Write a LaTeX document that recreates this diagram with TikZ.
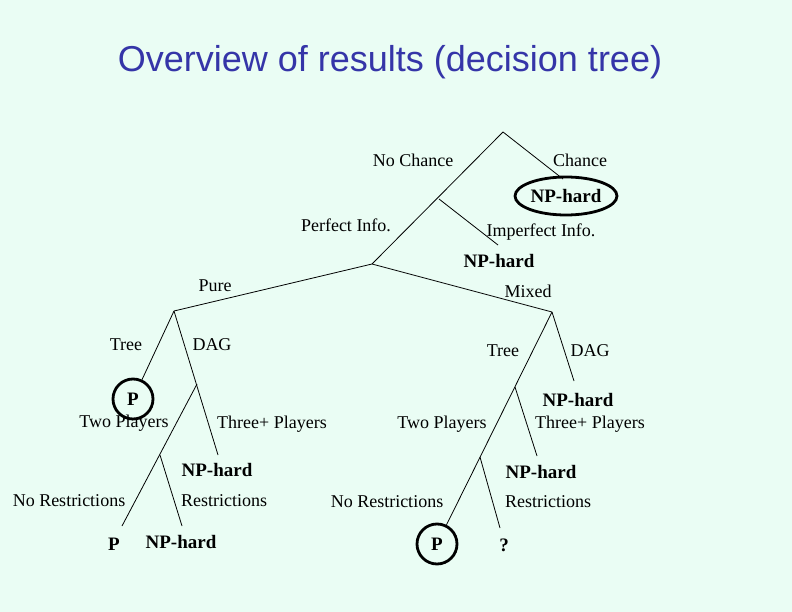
\documentclass[tikz,border=0pt]{standalone}
\usepackage{fontspec}
\setmainfont{Liberation Serif}
\newfontfamily\titlefont{Liberation Sans}
\usetikzlibrary{shapes.geometric}
\definecolor{slidebg}{HTML}{EAFDF4}
\definecolor{titleblue}{HTML}{3535A8}

\begin{document}
\begin{tikzpicture}[
  x=1pt, y=-1pt,
  lbl/.style={font=\fontsize{18}{20}\selectfont, inner sep=0pt},
  res/.style={font=\fontsize{19}{21}\selectfont\bfseries, inner sep=0pt},
  ring/.style={res, draw, circle, line width=2.8pt, minimum size=40pt},
  oval/.style={res, draw, ellipse, line width=2.8pt,
               minimum width=102pt, minimum height=38pt},
  branch/.style={line width=0.8pt},
]

% ================= slide ===========================================
\fill[slidebg] (0,0) rectangle (792,612);
\useasboundingbox (0,0) rectangle (792,612);
\node[font=\titlefont\fontsize{36}{40}\selectfont, text=titleblue] (title)
  at (390,62) {Overview of results (decision tree)};

% ================= branch points ===================================
\coordinate (root)      at (503,132);
\coordinate (chanceend) at (563,179);
\coordinate (infofork)  at (439,199);
\coordinate (imperfend) at (498,245);
\coordinate (stratfork) at (372,264);
\coordinate (purefork)  at (174,311);
\coordinate (mixfork)   at (552,312);
\coordinate (dagfork)   at (197,384);
\coordinate (dagend)    at (218,455);
\coordinate (restrfork) at (160,455);
\coordinate (norestr)   at (122,526);
\coordinate (restrend)  at (182,526);
\coordinate (mixdagend) at (574,381);
\coordinate (mixthree)  at (515,387);
\coordinate (mixthreeend) at (537,456);
\coordinate (mixrestr)  at (480,457);
\coordinate (mixrestrend) at (500,528);

% ================= results =========================================
\node[oval] (chancehard) at (566,196) {NP-hard};
\node[res]  (imperfhard) at (499,261) {NP-hard};
\node[ring] (treep)      at (133,399) {P};
\node[res]  (threehard)  at (217,470) {NP-hard};
\node[res]  (norestrp)   at (114,544) {P};
\node[res]  (restrhard)  at (181,542) {NP-hard};
\node[res]  (mixdaghard) at (578,400) {NP-hard};
\node[res]  (mixthreehard) at (541,472) {NP-hard};
\node[ring] (mixtreep)   at (437,544) {P};
\node[res]  (open)       at (504,545) {?};

% ================= labels ==========================================
\node[lbl] (nochance)  at (413,160) {No Chance};
\node[lbl] (chance)    at (580,160) {Chance};
\node[lbl] (perfect)   at (346,225) {Perfect Info.};
\node[lbl] (imperfect) at (541,232) {Imperfect Info.};
\node[lbl] (pure)      at (215,286) {Pure};
\node[lbl] (mixed)     at (528,291) {Mixed};
\node[lbl] (tree)      at (126,345) {Tree};
\node[lbl] (dag)       at (212,345) {DAG};
\node[lbl] (two)       at (124,423) {Two Players};
\node[lbl] (three)     at (272,424) {Three+ Players};
\node[lbl] (norestrlbl) at (69,501) {No Restrictions};
\node[lbl] (restrlbl)  at (224,501) {Restrictions};
\node[lbl] (mixtree)   at (503,351) {Tree};
\node[lbl] (mixdag)    at (590,351) {DAG};
\node[lbl] (mixtwo)    at (442,424) {Two Players};
\node[lbl] (mixthreelbl) at (590,424) {Three+ Players};
\node[lbl] (mixnorestr) at (387,502) {No Restrictions};
\node[lbl] (mixrestrlbl) at (548,502) {Restrictions};

% ================= tree ============================================
\draw[branch] (root) -- (chanceend);
\draw[branch] (root) -- (stratfork);
\draw[branch] (infofork) -- (imperfend);
\draw[branch] (purefork) -- (stratfork) -- (mixfork);
% pure strategies
\draw[branch] (purefork) -- (treep);
\draw[branch] (purefork) -- (dagend);
\draw[branch] (dagfork) -- (norestr);
\draw[branch] (restrfork) -- (restrend);
% mixed strategies
\draw[branch] (mixfork) -- (mixdagend);
\draw[branch] (mixfork) -- (mixtreep);
\draw[branch] (mixthree) -- (mixthreeend);
\draw[branch] (mixrestr) -- (mixrestrend);

\end{tikzpicture}
\end{document}
